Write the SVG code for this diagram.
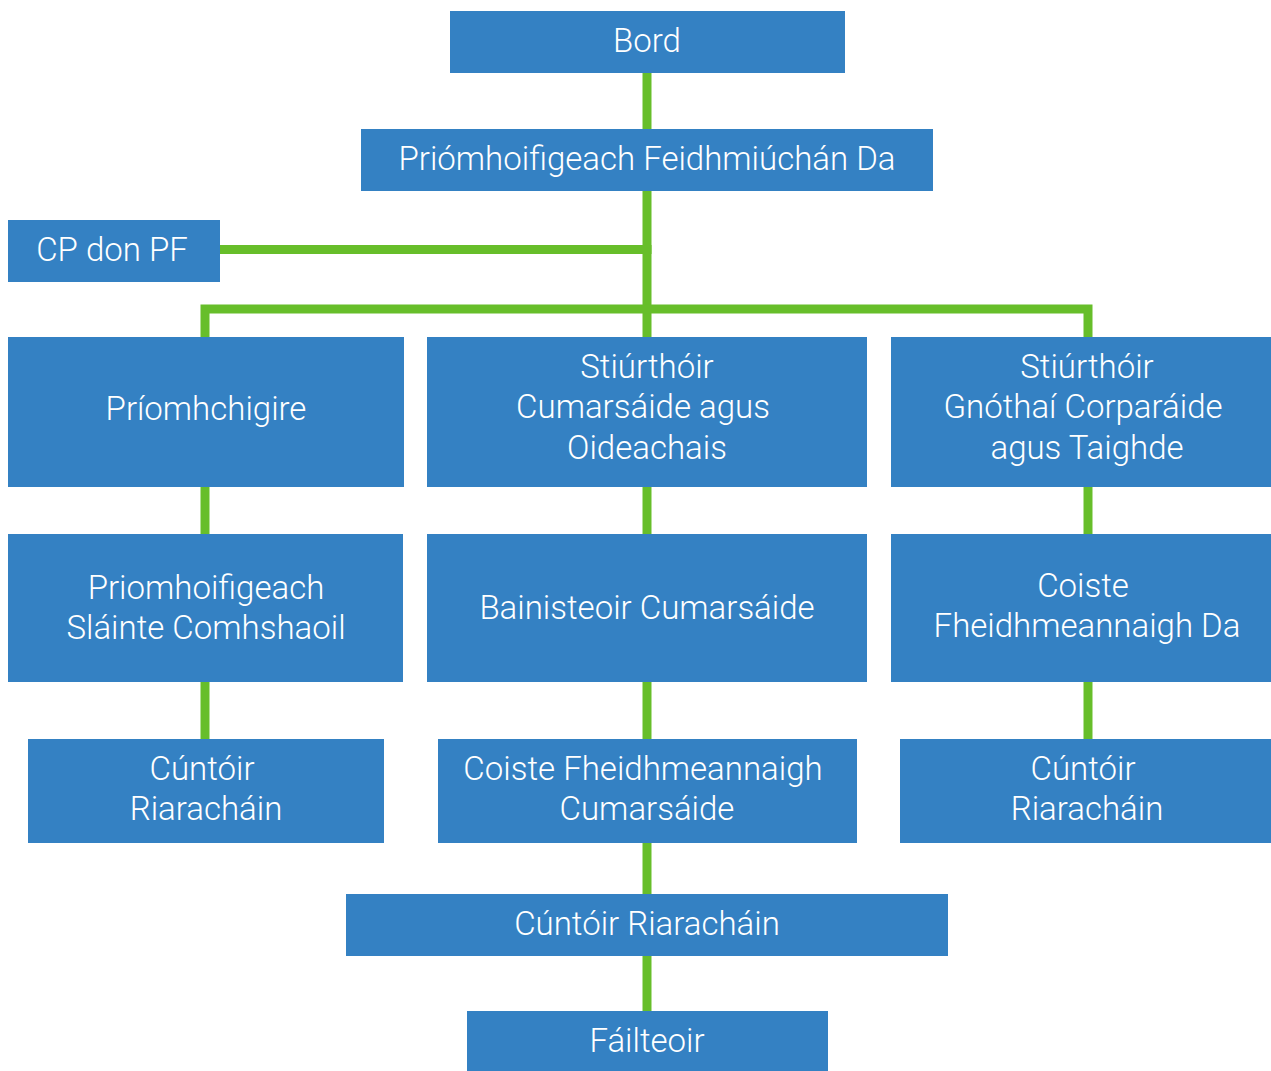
<svg xmlns="http://www.w3.org/2000/svg" width="1271" height="1071" viewBox="0 0 1271 1071">
<style>
.box{fill:#3481C3;}
.t{font-family:Roboto,"Liberation Sans",sans-serif;font-weight:300;font-size:33px;fill:#ffffff;text-anchor:middle;}
.c{stroke:#67BE2A;stroke-width:9;fill:none;stroke-linecap:butt;stroke-linejoin:miter;}
</style>
<rect width="1271" height="1071" fill="#ffffff"/>
<g id="connectors">
<line class="c" x1="647" y1="72" x2="647" y2="129"/>
<line class="c" x1="647" y1="190" x2="647" y2="337"/>
<line class="c" x1="220" y1="249.5" x2="651.5" y2="249.5"/>
<polyline class="c" points="205,337 205,309 1088,309 1088,337"/>
<line class="c" x1="205" y1="487" x2="205" y2="534"/>
<line class="c" x1="205" y1="682" x2="205" y2="739"/>
<line class="c" x1="647" y1="487" x2="647" y2="534"/>
<line class="c" x1="647" y1="682" x2="647" y2="739"/>
<line class="c" x1="647" y1="842" x2="647" y2="894"/>
<line class="c" x1="647" y1="955" x2="647" y2="1011"/>
<line class="c" x1="1088" y1="487" x2="1088" y2="534"/>
<line class="c" x1="1088" y1="682" x2="1088" y2="739"/>
</g>
<g id="bord"><rect class="box" x="450" y="11" width="395" height="62"/><text class="t" x="647" y="52">Bord</text></g>
<g id="pf"><rect class="box" x="361" y="129" width="572" height="62"/><text class="t" x="647" y="170">Priómhoifigeach Feidhmiúchán Da</text></g>
<g id="cp"><rect class="box" x="8" y="220" width="212" height="62"/><text class="t" x="112" y="261">CP don PF</text></g>
<g id="priomhchigire"><rect class="box" x="8" y="337" width="396" height="150"/><text class="t" x="206" y="420">Príomhchigire</text></g>
<g id="stiurthoir-cumarsaide"><rect class="box" x="427" y="337" width="440" height="150"/><text class="t" x="647" y="378">Stiúrthóir</text><text class="t" x="643" y="418">Cumarsáide agus</text><text class="t" x="647" y="459">Oideachais</text></g>
<g id="stiurthoir-gnothai"><rect class="box" x="891" y="337" width="380" height="150"/><text class="t" x="1087" y="378">Stiúrthóir</text><text class="t" x="1083" y="418">Gnóthaí Corparáide</text><text class="t" x="1087" y="459">agus Taighde</text></g>
<g id="slainte"><rect class="box" x="8" y="534" width="395" height="148"/><text class="t" x="206" y="599">Priomhoifigeach</text><text class="t" x="206" y="639">Sláinte Comhshaoil</text></g>
<g id="bainisteoir"><rect class="box" x="427" y="534" width="440" height="148"/><text class="t" x="647" y="619">Bainisteoir Cumarsáide</text></g>
<g id="coiste-da"><rect class="box" x="891" y="534" width="380" height="148"/><text class="t" x="1083" y="597">Coiste</text><text class="t" x="1087" y="637">Fheidhmeannaigh Da</text></g>
<g id="cuntoir-1"><rect class="box" x="28" y="739" width="356" height="104"/><text class="t" x="202" y="780">Cúntóir</text><text class="t" x="206" y="820">Riaracháin</text></g>
<g id="coiste-cumarsaide"><rect class="box" x="438" y="739" width="419" height="104"/><text class="t" x="643" y="780">Coiste Fheidhmeannaigh</text><text class="t" x="647" y="820">Cumarsáide</text></g>
<g id="cuntoir-3"><rect class="box" x="900" y="739" width="371" height="104"/><text class="t" x="1083" y="780">Cúntóir</text><text class="t" x="1087" y="820">Riaracháin</text></g>
<g id="cuntoir-2"><rect class="box" x="346" y="894" width="602" height="62"/><text class="t" x="647" y="935">Cúntóir Riaracháin</text></g>
<g id="failteoir"><rect class="box" x="467" y="1011" width="361" height="60"/><text class="t" x="647" y="1052">Fáilteoir</text></g>
</svg>
